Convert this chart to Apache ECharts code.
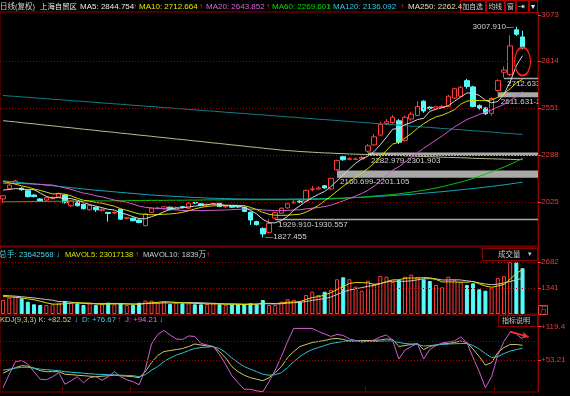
<!DOCTYPE html>
<html><head><meta charset="utf-8">
<script src="https://cdn.jsdelivr.net/npm/echarts@6/dist/echarts.min.js"></script>
<style>html,body{margin:0;padding:0;background:#000;}#c{width:570px;height:396px;}</style>
</head><body><div id="c"></div>
<script>
// ---------- data ----------
const opens = [2042,2100,2128,2102,2088,2064,2042,2036,2044,2053,
 2064,2004,2027,2012,1981,1995,1978,1967,1963,1984,
 1934,1934,1924,1893,1967,1988,1988,1996,1982,1999,
 1990,2022,2015,2008,2012,2018,1998,2002,2000,1996,
 1968,1915,1877,1855,1935,1962,1992,2020,2030,2030,
 2094,2098,2116,2098,2206,2279,2264,2264,2266,2310,
 2345,2400,2465,2470,2480,2370,2490,2510,2590,2556,
 2550,2555,2562,2608,2618,2705,2670,2565,2552,2522,
 2650,2752,2740,2990,2950];
const closes = [2060,2120,2143,2094,2055,2056,2028,2049,2050,2072,
 2021,2031,2004,1987,2007,1981,1984,1961,1966,1929,
 1937,1920,1910,1958,1990,1992,1998,1982,1995,1994,
 2018,2019,2005,2012,2018,2000,2002,1996,1997,1972,
 1924,1898,1846,1905,1965,1990,2015,2024,2024,2090,
 2098,2104,2104,2158,2258,2262,2268,2266,2274,2340,
 2390,2460,2475,2500,2360,2500,2517,2560,2535,2550,
 2558,2560,2618,2660,2668,2672,2560,2550,2520,2605,
 2705,2765,2900,2965,2889];
const highs = [2063,2126,2150,2108,2092,2068,2046,2054,2056,2078,
 2068,2034,2030,2016,2010,1999,1990,1969,1972,1987,
 1942,1937,1927,1962,1996,1998,2003,1999,1999,2003,
 2024,2026,2019,2016,2023,2022,2007,2005,2004,1999,
 1971,1920,1882,1929.91,1970,1995,2020,2035,2034,2094,
 2115,2112,2120,2160.699,2262,2282.5,2276,2274,2282.979,2350,
 2405,2475,2490,2512,2490,2510,2530,2590,2595,2562,
 2565,2568,2625,2666,2676,2715,2676,2572,2558,2611.631,
 2712.633,2785,2960,3007.91,2985];
const lows = [2020,2094,2122,2088,2050,2050,2022,2030,2040,2048,
 2016,1997,2000,1984,1976,1970,1972,1915,1957,1925,
 1928,1917,1906,1888,1962,1984,1984,1978,1979,1990,
 1986,2014,2002,2005,2008,1996,1993,1992,1992,1968,
 1896,1893,1827.455,1850,1930.557,1958,1988,2015,2018,2027,
 2085,2092,2100,2094,2201.105,2255,2258,2260,2262,2301.903,
 2340,2395,2455,2462,2350,2365,2480,2505,2525,2540,
 2545,2550,2555,2602,2612,2660,2555,2542,2512,2508,
 2640,2722,2730,2955,2880];

const ma5 = [2092,2095,2100,2098,2094,2094,2075,2056,2047,2050,
 2043,2044,2035,2023,2010,2002,1993,1984,1980,1964,
 1955,1943,1932,1931,1943,1954,1970,1984,1991,1992,
 1997,2002,2006,2010,2015,2011,2007,2006,2003,1994,
 1979,1958,1928,1909,1908,1921,1944,1980,2004,2029,
 2050,2068,2084,2111,2144,2177,2210,2242,2266,2282,
 2308,2346,2388,2433,2437,2459,2470,2487,2494,2533,
 2545,2553,2565,2590,2613,2636,2636,2622,2595,2581,
 2588,2629,2699,2788,2844.754];
const ma10 = [2140,2133,2125,2115,2108,2098,2090,2080,2070,2072,
 2068.5,2059.5,2045.5,2035,2030,2022.5,2018.5,2009.5,2001.5,1987,
 1978.5,1968,1958,1955.5,1953.5,1954.5,1956.5,1958,1961,1967.5,
 1975.5,1986,1995,2000.5,2003.5,2004,2004.5,2006,2006.5,2004.5,
 1995,1982.5,1967,1956,1951,1950,1951,1954,1956.5,1968.5,
 1985.5,2006,2032,2057.5,2086.5,2113.5,2139,2163,2188.5,2213,
 2242.5,2278,2315,2349.5,2359.5,2383.5,2408,2437.5,2463.5,2485,
 2502,2511.5,2526,2542,2573,2590.5,2594.5,2593.5,2592.5,2597,
 2612,2632.5,2660.5,2691.5,2712.664];
const ma20 = [2130,2130,2129,2128,2127,2126,2124,2122,2120,2112,
 2104,2096,2085,2075,2069,2060,2054,2045,2036,2029.5,
 2023.5,2013.8,2001.8,1995.3,1991.8,1988.5,1987.5,1983.8,1981.3,1977.3,
 1977,1977,1976.5,1978,1978.5,1979.3,1980.5,1982,1983.8,1986,
 1985.3,1984.3,1981,1978.3,1977.3,1977,1977.8,1980,1981.5,1986.5,
 1990.3,1994.3,1999.5,2006.8,2018.8,2031.8,2045,2058.5,2072.5,2090.8,
 2114,2142,2173.5,2203.5,2223,2248.5,2273.5,2300.3,2326,2349,
 2372.3,2394.8,2420.5,2445.8,2466.3,2487,2501.3,2515.5,2528,2541,
 2557,2572,2593.3,2616.8,2643.852];
const ma60 = [2026,2026,2027,2027,2027,2028,2028,2028,2029,2029,
 2029,2030,2030,2030,2031,2031,2031,2031,2032,2032,
 2032,2033,2033,2033,2034,2034,2034,2035,2035,2035,
 2036,2036,2036,2037,2037,2037,2038,2038,2038,2038,
 2038,2038,2038,2038,2038,2038,2038,2038,2038,2039,
 2039,2040,2041,2042,2044,2046,2048,2050,2052,2055,
 2058,2061,2064,2067,2071,2075,2080,2085,2091,2097,
 2104,2111,2119,2128,2137,2147,2157,2169,2181,2194,
 2207,2221,2236,2252,2269.601];
const ma120 = [2144,2140,2137,2133,2130,2126,2123,2119,2116,2112,
 2109,2105,2102,2098,2095,2091,2088,2085,2082,2079,
 2076,2073,2070,2067,2064,2062,2060,2058,2056,2054,
 2052,2050,2049,2047,2046,2045,2044,2043,2042,2042,
 2041,2041,2041,2041,2041,2041,2041,2042,2042,2042,
 2043,2043,2044,2045,2046,2047,2048,2050,2051,2053,
 2055,2057,2059,2061,2063,2066,2068,2071,2074,2077,
 2080,2083,2086,2090,2093,2097,2101,2104,2108,2112,
 2117,2121,2126,2131,2136.092];
const ma250 = [2481,2477,2474,2470,2466,2463,2459,2455,2452,2448,
 2444,2441,2437,2433,2430,2426,2422,2419,2415,2411,
 2408,2404,2400,2397,2393,2389,2386,2382,2378,2375,
 2371,2367,2364,2360,2356,2353,2349,2345,2342,2338,
 2334,2331,2327,2323,2320,2316,2313,2311,2308,2306,
 2304,2302,2300,2299,2297,2296,2294,2293,2292,2291,
 2290,2288,2287,2286,2285,2284,2283,2281,2280,2279,
 2278,2276,2275,2274,2273,2272,2270,2269,2268,2267,
 2266,2265,2264,2263,2262.4];
const longLine = [2622,2619,2617,2614,2612,2609,2606,2604,2601,2599,
 2596,2593,2591,2588,2586,2583,2580,2578,2575,2573,
 2570,2567,2565,2562,2560,2557,2554,2552,2549,2547,
 2544,2541,2539,2536,2534,2531,2528,2526,2523,2521,
 2518,2515,2513,2510,2508,2505,2502,2500,2497,2495,
 2492,2489,2487,2484,2482,2479,2476,2474,2471,2469,
 2466,2463,2461,2458,2456,2453,2450,2448,2445,2443,
 2440,2437,2435,2432,2430,2427,2424,2422,2419,2417,
 2414,2411,2409,2406,2404];

// volume in 万
const volumes = [722,841,893,810,635,500,464,464,500,583,
 671,583,552,464,552,464,500,583,500,552,
 464,464,583,686,686,583,635,516,583,552,
 552,500,500,516,552,500,464,500,500,500,
 552,500,722,464,464,635,758,722,635,980,
 1150,980,1150,1238,1790,1894,1790,1409,1202,1718,
 1548,1961,1925,1650,1754,1925,2030,1900,1790,1700,
 1496,1378,1925,1754,1650,1496,1584,1274,1202,1330,
 1850,1950,2680,2660,2364];
const mavol5 = [900,880,860,830,780,736,660,575,513,502,
 536,560,578,571,564,523,506,513,520,520,
 520,513,513,550,577,600,635,621,601,574,
 568,541,537,524,524,514,506,506,503,493,
 503,510,555,548,540,557,609,609,643,746,
 849,893,979,1100,1262,1410,1572,1624,1617,1603,
 1533,1568,1671,1760,1768,1843,1857,1852,1880,1869,
 1783,1653,1658,1651,1641,1641,1682,1552,1441,1377,
 1448,1521,1802,2094,2301.7];
const mavol10 = [960,940,920,890,860,830,790,750,710,641,
 636,610,577,542,533,530,533,546,546,542,
 522,510,513,535,549,560,574,567,576,576,
 584,588,579,563,549,541,524,522,514,509,
 509,508,531,526,517,530,560,582,596,643,
 703,751,794,872,1004,1130,1233,1302,1359,1433,
 1472,1570,1648,1689,1686,1688,1713,1762,1820,1819,
 1813,1755,1755,1766,1755,1712,1668,1605,1546,1509,
 1545,1602,1677,1768,1839];

const kdjK = [27,33,38,42,41,37,32,30,30,30,
 25,24,23,22,21,20,21,22,23,22,
 21,20,18,30,48,62,70,72,74,76,
 80,85,83,81,80,70,57,40,30,23,
 18,15,12,18,28,40,58,70,80,84,
 88,90,92,95,96,94,91,91,92,92,
 92,93,95,94,80,82,84,86,74,80,
 83,85,86,88,91,88,75,60,43,48,
 68,78,84,84,82.52];
const kdjD = [33,35,37,38.7,38.7,37,35,34,33,32,
 30,29,28,27,26,25,24.5,24,23.5,23,
 22.5,22,20,24,33,40,50,57,63,67,
 72,76,78,79,79.6,76,68,57,48,40,
 35,30,25,23,24,28,38,50,60,68,
 74,78,82,86,88,90,91,91,90.5,90,
 90,90.5,91,91,88,86,85,84,81,82,
 83,84,85,85.5,86,86,82,75,66,58,
 60,66,71,74,76.67];
const kdjJ = [-2,25,50,52,45,30,15,14,20,28,
 5,12,20,8,18,20,13,20,30,20,
 14,10,4,35,85,104,112,103,95,94,
 101,100,86,83,80,64,44,22,8,-5,
 -5,-8,-10,10,33,60,90,116,116,116,
 116,110,105,100,104,102,95,92,89,90,
 93,99,103,92,55,73,80,86,55,74,
 82,87,89,91,99,88,58,30,-2,20,
 63,90,109,105,94.21];

// unfilled gaps: start candle, lower edge, upper edge
const gapStarts = [44, 54, 59, 80, 81];
const gapLows   = [1929.910, 2160.699, 2282.979, 2611.631, 2712.633];
const gapHighs  = [1930.557, 2201.105, 2301.903, 2640.000, 2722.000];

const priceTicks = [3073, 2814, 2551, 2288, 2025];
const priceGuides = [2814, 2551, 2288, 2025];
const volTicks = [2682, 1341];
const kdjTicks = [119.4, 53.21];
const kdjGuides = [91, 53.21];
const dateTicks = [10, 21, 59, 80];
const totalHands = '23642568';
const mavol5Hands = '23017138';
const mavol10Text = '1839万';
const circled = [84, 2812];
const kdjArrow = [[82, 110], [85, 99]];

// ---------- chart ----------
const FONT = '"Liberation Sans","Noto Sans CJK SC",sans-serif';
const UP = '#ff3c3c', DOWN = '#54fcfc', GRID = '#8c0000', AX = '#e43c3c';
const HF = 8;
const categories = Array.from({length: closes.length + 2}, (_, i) => 'D' + (i + 1));
const kData = opens.map((o, i) => [o, closes[i], lows[i], highs[i]]);
const volData = volumes.map((v, i) => ({
  value: v,
  itemStyle: closes[i] >= opens[i]
    ? {color: '#000', borderColor: UP, borderWidth: 1}
    : {color: DOWN, borderColor: DOWN, borderWidth: 1}
}));
let hiIdx = 0, loIdx = 0;
highs.forEach((h, i) => { if (h > highs[hiIdx]) hiIdx = i; });
lows.forEach((l, i) => { if (l < lows[loIdx]) loIdx = i; });
const last = a => a[a.length - 1];

const line = (name, data, color, xi, yi, extra) => Object.assign({
  name, type: 'line', data, xAxisIndex: xi, yAxisIndex: yi, symbol: 'none',
  lineStyle: {color, width: 1}, itemStyle: {color}, silent: true
}, extra || {});

const txt = (x, y, text, fill, size) => ({type: 'text', x, y, silent: true, z: 100,
  style: {text, fill, font: (size || HF) + 'px ' + FONT, verticalAlign: 'middle'}});
const box = (x, y, w, h, stroke) => ({type: 'rect', silent: true, z: 99,
  shape: {x, y, width: w, height: h}, style: {fill: '#000', stroke, lineWidth: 1}});

const xAx = (gi, ticks) => ({
  type: 'category', gridIndex: gi, data: categories, boundaryGap: true,
  axisLine: {show: false}, axisLabel: {show: false},
  axisTick: ticks ? {show: true, length: 4, interval: (i) => dateTicks.includes(i),
    lineStyle: {color: GRID}} : {show: false},
  splitLine: {show: false}
});
const yAx = (gi, min, max, ticks, fmt) => ({
  type: 'value', gridIndex: gi, position: 'right', min, max, scale: false,
  axisLine: {show: true, lineStyle: {color: GRID}},
  axisTick: {show: true, length: 3, customValues: ticks, lineStyle: {color: AX}},
  axisLabel: {show: true, customValues: ticks, color: AX, fontSize: 8, fontFamily: FONT,
    margin: 3, formatter: fmt || (v => String(v))},
  splitLine: {show: false}
});
const guides = (vals) => ({silent: true, symbol: ['none', 'none'], label: {show: false},
  lineStyle: {color: '#a00000', type: [1, 2], width: 1}, data: vals.map(v => ({yAxis: v}))});

const gapSeries = {
  type: 'custom', xAxisIndex: 0, yAxisIndex: 0, clip: true, z: 1, silent: true,
  data: gapStarts.map((s, i) => [s, gapLows[i], gapHighs[i]]),
  renderItem(params, api) {
    const s = api.value(0), lo = api.value(1), hi = api.value(2);
    const pT = api.coord([s, hi]), pB = api.coord([s, lo]);
    const cs = params.coordSys;
    const h = Math.max(1.5, pB[1] - pT[1]);
    return {type: 'group', children: [
      {type: 'rect', shape: {x: pT[0], y: pT[1], width: cs.x + cs.width - pT[0], height: h},
        style: {fill: '#a8a8a8'}},
      {type: 'text', style: {text: lo.toFixed(3) + '-' + hi.toFixed(3), x: pT[0] + 3, y: pT[1] + h + 0.5,
        fill: '#d4d4d4', font: '8px ' + FONT, verticalAlign: 'top'}}
    ]};
  }
};

const option = {
  backgroundColor: '#000',
  animation: false,
  grid: [
    {left: 0, right: 32, top: 12, height: 234, show: true, borderColor: GRID, borderWidth: 1},
    {left: 0, right: 32, top: 247, height: 67, show: true, borderColor: GRID, borderWidth: 1},
    {left: 0, right: 32, top: 315, height: 77, show: true, borderColor: GRID, borderWidth: 1}
  ],
  xAxis: [xAx(0, false), xAx(1, false), xAx(2, true)],
  yAxis: [
    yAx(0, 1778.4, 3089.8, priceTicks),
    yAx(1, 0, 3455.7, volTicks),
    yAx(2, -10.4, 142.66, kdjTicks, v => '+' + v)
  ],
  series: [
    gapSeries,
    {
      name: 'K线', type: 'candlestick', xAxisIndex: 0, yAxisIndex: 0, data: kData, barWidth: 5,
      silent: true,
      itemStyle: {color: '#000', color0: DOWN, borderColor: UP, borderColor0: DOWN, borderWidth: 1},
      markLine: guides(priceGuides),
      markPoint: {
        silent: true, symbol: 'circle', symbolSize: 1, itemStyle: {color: 'rgba(0,0,0,0)'},
        label: {show: true, color: '#d4d4d4', fontSize: 8, fontFamily: FONT},
        data: [
          {coord: [hiIdx, highs[hiIdx]], label: {position: 'left', distance: 2,
            formatter: highs[hiIdx].toFixed(3) + '—'}},
          {coord: [loIdx, lows[loIdx]], label: {position: 'right', distance: 2,
            formatter: '—' + lows[loIdx].toFixed(3)}},
          {coord: circled, symbol: 'path://M0,50A50,50,0,1,1,100,50A50,50,0,1,1,0,50Z',
            symbolSize: [16, 28], label: {show: false},
            itemStyle: {color: 'rgba(0,0,0,0)', borderColor: '#ff2020', borderWidth: 1.5}}
        ]
      }
    },
    line('longLine', longLine, '#127f8a', 0, 0),
    line('MA250', ma250, '#bcbc94', 0, 0),
    line('MA120', ma120, '#10a8b8', 0, 0),
    line('MA60', ma60, '#10c010', 0, 0),
    line('MA20', ma20, '#d25cd2', 0, 0),
    line('MA10', ma10, '#d8d800', 0, 0),
    line('MA5', ma5, '#d8d8d8', 0, 0),
    {
      name: '成交量', type: 'bar', xAxisIndex: 1, yAxisIndex: 1, data: volData, barWidth: 4,
      silent: true, markLine: guides(volTicks)
    },
    line('MAVOL10', mavol10, '#c8c8c8', 1, 1),
    line('MAVOL5', mavol5, '#e0e000', 1, 1),
    line('K', kdjK, '#c8c864', 2, 2, {markLine: guides(kdjGuides)}),
    line('D', kdjD, '#30c0d0', 2, 2),
    line('J', kdjJ, '#d060d0', 2, 2, {markLine: {silent: true, symbol: ['none', 'arrow'],
      symbolSize: [5, 7], label: {show: false},
      lineStyle: {color: '#ff3030', width: 1.5, type: 'solid'},
      data: [[{coord: kdjArrow[0]}, {coord: kdjArrow[1]}]]}})
  ],
  graphic: {elements: [
    txt(0, 7, '日线(复权)', '#d0d0d0', 7.5),
    txt(40, 7, '上海自贸区', '#e8e8e8', 7.4),
    txt(80, 7, 'MA5: ' + last(ma5).toFixed(3), '#e8e8e8'), txt(133, 7, '↑', '#ff3030'),
    txt(139, 7, 'MA10: ' + last(ma10).toFixed(3), '#e8e800'), txt(199, 7, '↑', '#ff3030'),
    txt(206, 7, 'MA20: ' + last(ma20).toFixed(3), '#e060e0'), txt(266, 7, '↑', '#ff3030'),
    txt(272, 7, 'MA60: ' + last(ma60).toFixed(3), '#00e000'), txt(327, 7, '↑', '#ff3030'),
    txt(333, 7, 'MA120: ' + last(ma120).toFixed(3), '#30c8e8'), txt(400, 7, '↑', '#ff3030'),
    txt(408, 7, 'MA250: ' + String(last(ma250)), '#e0e0b0'),
    box(460.5, 0.5, 25, 12, '#b00000'), txt(462.5, 7, '加自选', '#d8d8d8', 6.8),
    box(486.5, 0.5, 18, 12, '#b00000'), txt(488.5, 7, '均线', '#d8d8d8', 6.8),
    box(505.5, 0.5, 10, 12, '#b00000'), txt(507, 7, '窗', '#d8d8d8', 6.8),
    box(516.5, 0.5, 12, 12, '#b00000'), txt(518, 7, '⇥', '#f0f0f0', 8),
    box(529.5, 0.5, 8, 12, '#b00000'), txt(530.5, 7, '▾', '#f0f0f0', 8),
    txt(-1, 255, '总手: ' + totalHands, '#40d8e8', 7.8), txt(56, 255, '↓', '#40d8e8'),
    txt(65, 255, 'MAVOL5: ' + mavol5Hands, '#e0e000', 7.6), txt(135, 255, '↑', '#ff3030'),
    txt(143, 255, 'MAVOL10: ' + mavol10Text, '#d0d0d0', 7.6), txt(206, 255, '↑', '#ff3030'),
    box(482.5, 248.5, 55, 12, GRID), txt(498, 254.5, '成交量', '#c8c8c8', 7.5), txt(528, 254.5, '▾', '#c8c8c8', 7),
    box(538.5, 305.5, 9, 9, AX), txt(539.5, 310.5, '万', AX, 7.5),
    txt(0, 320, 'KDJ(9,3,3) K: +' + last(kdjK).toFixed(2), '#d0d088', 7.6), txt(74, 320, '↓', '#40d8e8'),
    txt(82, 320, 'D: +' + last(kdjD).toFixed(2), '#40d0e0', 7.8), txt(117, 320, '↑', '#ff3030'),
    txt(125, 320, 'J: +' + last(kdjJ).toFixed(2), '#e070e0', 7.8), txt(159, 320, '↓', '#40d8e8'),
    box(498.5, 315.5, 39, 11, GRID), txt(502, 321, '指标说明', '#c8c8c8', 7)
  ]}
};
const chart = echarts.init(document.getElementById('c'), null, {renderer: 'canvas'});
chart.setOption(option);
</script>
</body></html>
